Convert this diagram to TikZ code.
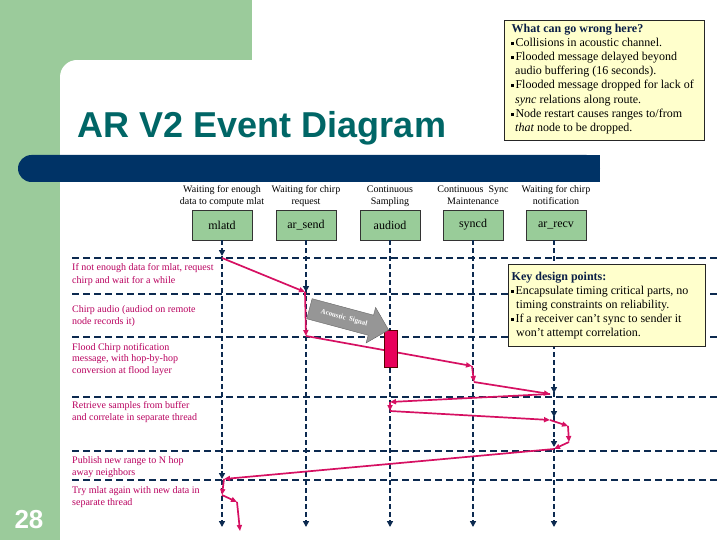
\documentclass[tikz,border=0pt]{standalone}
\usepackage{fontspec}
\setmainfont{Liberation Serif}
\newfontfamily\arialfont{Liberation Sans}
\usetikzlibrary{arrows.meta,shapes.arrows}
\definecolor{bggreen}{RGB}{155,203,155}
\definecolor{boxgreen}{RGB}{153,204,153}
\definecolor{barnavy}{RGB}{0,51,102}
\definecolor{linenavy}{RGB}{12,42,80}
\definecolor{titleteal}{RGB}{0,102,102}
\definecolor{mag}{RGB}{214,16,98}
\definecolor{magtext}{RGB}{185,0,95}
\definecolor{notebg}{RGB}{255,255,204}
\definecolor{sigred}{RGB}{232,0,90}
\definecolor{arrowgray}{RGB}{150,150,150}
\definecolor{notehead}{RGB}{10,30,70}
\newcommand\bul{\raisebox{1.8pt}{\rule{2.8pt}{2.8pt}}\hspace{1.5pt}}
\begin{document}
\begin{tikzpicture}[x=1pt,y=-1pt,
 life/.style={draw=linenavy,line width=1.8pt,dash pattern=on 5pt off 3pt},
 tipnavy/.style={-{Triangle[length=6pt,width=6pt]}},
 hline/.style={draw=linenavy,line width=1.3pt,dash pattern=on 7pt off 4pt},
 msg/.style={draw=mag,line width=1.7pt,-{Triangle[length=6pt,width=5pt]}},
 hbox/.style={draw=black!80,fill=boxgreen,minimum width=60pt,minimum height=30pt,inner sep=0pt,font=\fontsize{12}{14}\selectfont},
 hdr/.style={anchor=base,inner sep=0pt,font=\fontsize{10}{12}\selectfont},
 rowlab/.style={anchor=base west,inner sep=0pt,text=magtext,font=\fontsize{10}{12}\selectfont},
 note/.style={draw=black!85,fill=notebg,line width=0.8pt,inner sep=0pt},
 noteline/.style={anchor=base west,inner sep=0pt,font=\fontsize{12}{14}\selectfont},
 notetitle/.style={anchor=base west,inner sep=0pt,text=notehead,font=\bfseries\fontsize{12}{14}\selectfont},
]
\useasboundingbox (0,0) rectangle (720,540);
% background
\fill[white] (0,0) rectangle (720,540);
\fill[bggreen] (0,0) rectangle (252,60);
\fill[bggreen] (0,0) rectangle (60,540);
\fill[bggreen] (60,60) rectangle (77,77);
\fill[white] (77,77) circle[radius=17];
\fill[barnavy,rounded corners=13.5pt] (18,155) rectangle (600,182);
\fill[barnavy] (580,155) rectangle (600,182);
\node[anchor=base,inner sep=0pt,text=titleteal,font=\arialfont\bfseries\fontsize{36}{40}\selectfont] (title) at (262,138) {AR V2 Event Diagram};
\node[anchor=base,inner sep=0pt,text=white,font=\arialfont\bfseries\fontsize{26}{28}\selectfont] (pagenum) at (29,528) {28};

% column headers
\node[hdr] (h1a) at (222,193) {Waiting for enough};
\node[hdr] (h1b) at (222,205) {data to compute mlat};
\node[hdr] (h2a) at (306,193) {Waiting for chirp};
\node[hdr] (h2b) at (306,205) {request};
\node[hdr] (h3a) at (390,193) {Continuous};
\node[hdr] (h3b) at (390,205) {Sampling};
\node[hdr] (h4a) at (473,193) {Continuous\ \ Sync};
\node[hdr] (h4b) at (473,205) {Maintenance};
\node[hdr] (h5a) at (556,193) {Waiting for chirp};
\node[hdr] (h5b) at (556,205) {notification};

\node[hbox] (mlatd) at (222,225) {mlatd};
\node[hbox] (arsend) at (306,225) {ar\_send};
\node[hbox] (audiod) at (390,225) {audiod};
\node[hbox] (syncd) at (473,225) {syncd};
\node[hbox] (arrecv) at (556,225) {ar\_recv};

% horizontal separators
\foreach \yy in {258,294,337,397,451,480}
  \draw[hline] (72,\yy) -- (720,\yy);

% lifelines
\coordinate (m0) at (222,527);
\coordinate (s0) at (306,527);
\coordinate (a0) at (390,527);
\coordinate (y0) at (473,527);
\coordinate (r0) at (554,527);
\draw[life,tipnavy] (mlatd.south) -- (m0);
\draw[life,tipnavy] (arsend.south) -- (s0);
\draw[life,tipnavy] (audiod.south) -- (a0);
\draw[life,tipnavy] (syncd.south) -- (y0);
\draw[life,tipnavy] (554,240) -- (r0);
% event markers on lifelines
\draw[life,tipnavy] (222,248) -- (222,256);
\draw[life,tipnavy] (306,284) -- (306,292);
\draw[life,tipnavy] (554,385) -- (554,393);
\draw[life,tipnavy] (554,409) -- (554,417);
\draw[life,tipnavy] (554,439) -- (554,447);
\draw[life,tipnavy] (222,471) -- (222,479);

% row labels
\node[rowlab] (r1a) at (72,270.5) {If not enough data for mlat, request};
\node[rowlab] (r1b) at (72,283) {chirp and wait for a while};
\node[rowlab] (r2a) at (72,312) {Chirp audio (audiod on remote};
\node[rowlab] (r2b) at (72,324) {node records it)};
\node[rowlab] (r3a) at (72,350) {Flood Chirp notification};
\node[rowlab] (r3b) at (72,361.5) {message, with hop-by-hop};
\node[rowlab] (r3c) at (72,373) {conversion at flood layer};
\node[rowlab] (r4a) at (72,408) {Retrieve samples from buffer};
\node[rowlab] (r4b) at (72,420) {and correlate in separate thread};
\node[rowlab] (r5a) at (72,463) {Publish new range to N hop};
\node[rowlab] (r5b) at (72,475) {away neighbors};
\node[rowlab] (r6a) at (72,493) {Try mlat again with new data in};
\node[rowlab] (r6b) at (72,505) {separate thread};

% message path
\coordinate (p1) at (222,258);
\coordinate (p2) at (305,292);
\coordinate (p3) at (306,336);
\coordinate (p4) at (472,366);
\coordinate (p5) at (474,382);
\coordinate (p6) at (550,394);
\coordinate (p7) at (390,402);
\coordinate (p8) at (390,411);
\coordinate (p9) at (550,420);
\coordinate (p10) at (568,426);
\coordinate (p11) at (569,442);
\coordinate (p12) at (554,449);
\coordinate (p13) at (224,479);
\coordinate (p14) at (222,495);
\coordinate (p15) at (237,502);
\coordinate (p16) at (240,531);
\draw[msg] (p1) -- (p2);
\draw[msg] (p2) -- (p3);
\draw[msg] (p3) -- (p4);
\draw[msg] (p4) -- (p5);
\draw[msg] (p5) -- (p6);
\draw[msg] (p6) -- (p7);
\draw[msg] (p7) -- (p8);
\draw[msg] (p8) -- (p9);
\draw[msg] (p9) -- (p10);
\draw[msg] (p10) -- (p11);
\draw[msg] (p11) -- (p12);
\draw[msg] (p12) -- (p13);
\draw[msg] (p13) -- (p14);
\draw[msg] (p14) -- (p15);
\draw[msg] (p15) -- (p16);

% chirp block on audiod
\node[draw=red!35!black,fill=sigred,minimum width=13pt,minimum height=37pt,inner sep=0pt,line width=0.6pt] (chirp) at (390.5,348.5) {};

% acoustic signal arrow
\node[single arrow,draw=black!60,fill=arrowgray,rotate=-15,minimum height=82pt,single arrow head extend=8pt,inner xsep=2pt,inner ysep=7pt,text=white,font=\bfseries\fontsize{7}{8}\selectfont] (sig) at (344,318) {Acoustic\ \ Signal};

% note: what can go wrong
\node[note,anchor=north west,minimum width=200pt,minimum height=120pt] (wrong) at (504,20) {};
\node[notetitle] (w0) at (511.5,33) {What can go wrong here?};
\node[noteline] (w1) at (511,47) {\bul Collisions in acoustic channel.};
\node[noteline] (w2) at (511,61) {\bul Flooded message delayed beyond};
\node[noteline] (w3) at (515,75) {audio buffering (16 seconds).};
\node[noteline] (w4) at (511,89) {\bul Flooded message dropped for lack of};
\node[noteline] (w5) at (515,103.5) {\textit{sync} relations along route.};
\node[noteline] (w6) at (511,118) {\bul Node restart causes ranges to/from};
\node[noteline] (w7) at (515,132) {\textit{that} node to be dropped.};

% note: key design points
\node[note,anchor=north west,minimum width=197pt,minimum height=82pt] (keys) at (508,264) {};
\node[notetitle] (k0) at (511.5,280) {Key design points:};
\node[noteline] (k1) at (511,294.5) {\bul Encapsulate timing critical parts, no};
\node[noteline] (k2) at (516,308.5) {timing constraints on reliability.};
\node[noteline] (k3) at (511,322.5) {\bul If a receiver can’t sync to sender it};
\node[noteline] (k4) at (516,336.5) {won’t attempt correlation.};
\end{tikzpicture}
\end{document}
